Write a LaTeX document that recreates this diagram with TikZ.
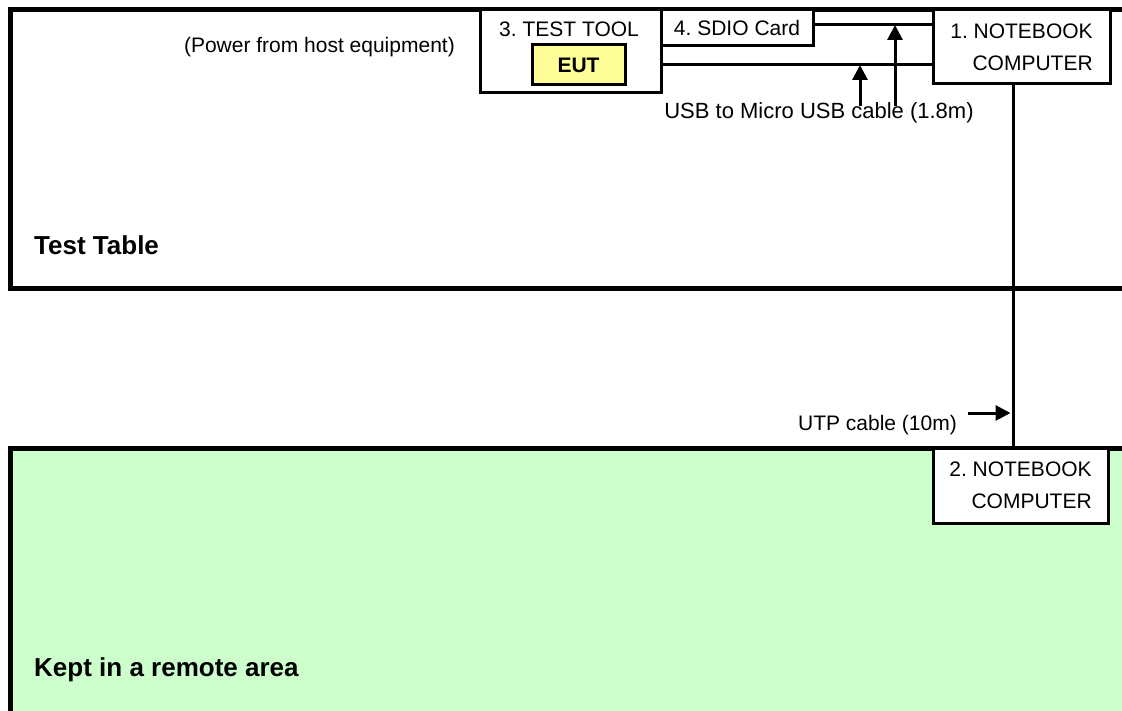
\documentclass[tikz,border=0pt]{standalone}
\usepackage{fontspec}
\setmainfont{Liberation Sans}
\usetikzlibrary{arrows.meta,positioning}
\definecolor{remotearea}{RGB}{204,255,204}
\definecolor{eutfill}{RGB}{255,255,153}
\frenchspacing

\begin{document}
\begin{tikzpicture}[x=1pt,y=-1pt,every node/.style={font=\fontsize{21}{32}\selectfont,inner sep=0pt},
  unit/.style={draw,line width=3pt,fill=white,inner sep=0pt},
  arealbl/.style={font=\fontsize{26}{30}\selectfont\bfseries,anchor=west},
  cable/.style={line width=3pt},
  cablearrow/.style={line width=3pt,-{Triangle[length=15pt,width=15pt]}}]
  \useasboundingbox (0,0) rectangle (1122,711);
  % test table and remote area
  \fill[remotearea] (10,448) rectangle (1122,711);
  \draw[line width=5pt] (1122,10) -- (10,10) -- (10,289) -- (1122,289);
  \draw[line width=5pt] (1122,448) -- (10,448) -- (10,711);
  \node[arealbl] (table) at (34,245) {Test Table};
  \node[arealbl] (remote) at (34,670) {Kept in a remote area};
  \node[anchor=east] (power) at (455,47) {(Power from host equipment)};
  % equipment
  \node[unit,minimum width=181,minimum height=83] (tool) at (570.5,51.5) {};
  \node (toollbl) at (569,29.5) {3. TEST TOOL};
  \node[unit,fill=eutfill,minimum width=93,minimum height=40,font=\fontsize{21}{25}\selectfont\bfseries] (eut) at (578.5,65) {EUT};
  \node[unit,minimum width=152,minimum height=36] (sdio) at (737,28) {4. SDIO Card};
  \node[unit,align=right,minimum width=177,minimum height=74] (nb1) at (1021.5,47) {1. NOTEBOOK\\COMPUTER};
  \node[unit,align=right,minimum width=175,minimum height=75] (nb2) at (1020.5,485.5) {2. NOTEBOOK\\COMPUTER};
  % cables
  \draw[cable] ([yshift=3pt]sdio.east) -- ([yshift=3pt]sdio.east -| nb1.west);
  \draw[cable] (eut.east -| tool.east) -- (eut.east -| nb1.west);
  \draw[cable] ([xshift=-8.5pt]nb1.south) -- ([xshift=-8.5pt]nb1.south |- nb2.north);
  % cable labels
  \node[font=\fontsize{22}{26}\selectfont] (usblbl) at (819,113) {USB to Micro USB cable (1.8m)};
  \coordinate (usb1) at (860,106);
  \coordinate (usb2) at (895,106);
  \draw[cablearrow] (usb1) -- (usb1 |- eut.east);
  \draw[cablearrow] (usb2) -- ([yshift=3pt]usb2 |- sdio.east);
  \node[anchor=east] (utplbl) at (957,425) {UTP cable (10m)};
  \coordinate (utp) at (968,413);
  \draw[cablearrow] (utp) -- ([xshift=-10pt]utp -| nb2.north);
\end{tikzpicture}
\end{document}
